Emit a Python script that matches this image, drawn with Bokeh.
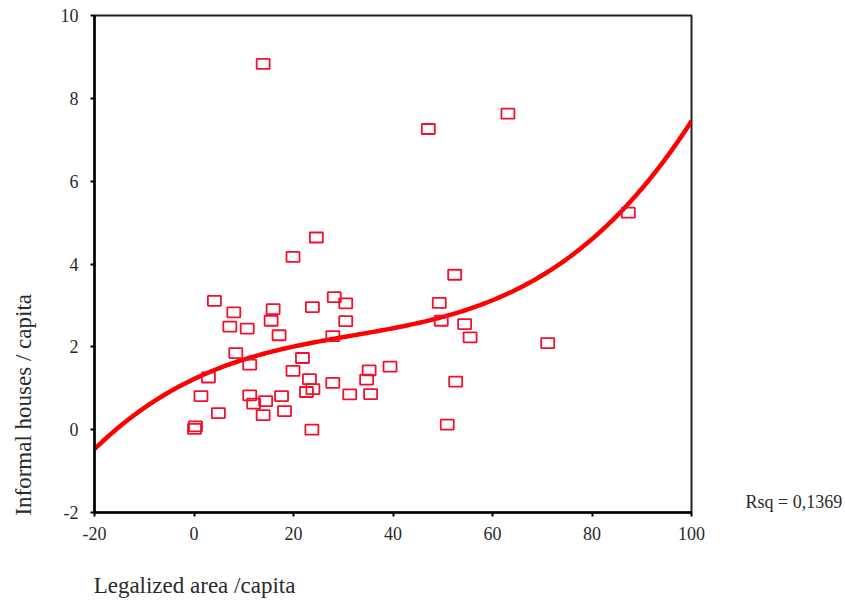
import numpy as np
from bokeh.plotting import figure
from bokeh.models import Range1d, FixedTicker, LinearAxis, ColumnDataSource
from bokeh.embed import file_html
from bokeh.resources import INLINE

# Scatter data: legalized area per capita vs informal houses per capita
legal_area = [13.9, 47.1, 63.1, 87.3, 24.6, 19.9, 52.4, 4.1, 8.0, 7.2, 10.7,
               15.9, 15.5, 17.1, 8.4, 11.2, 2.9, 1.4, 4.9, 0.1, 0.3, 11.2, 12.0,
               14.4, 13.9, 17.6, 18.2, 19.9, 21.8, 23.7, 23.8, 28.2, 30.5, 30.5,
               27.9, 23.2, 22.6, 23.9, 27.9, 31.3, 35.2, 34.7, 35.5, 39.4, 49.3,
               49.7, 54.4, 55.5, 71.1, 52.6, 50.9]
informal_houses = [8.83, 7.26, 7.63, 5.24, 4.64, 4.17, 3.74, 3.11, 2.83, 2.49,
                   2.44, 2.91, 2.63, 2.28, 1.85, 1.57, 1.26, 0.81, 0.40, 0.02,
                   0.08, 0.83, 0.63, 0.69, 0.35, 0.81, 0.45, 1.42, 1.73, 0.0,
                   2.96, 3.20, 3.05, 2.62, 2.26, 1.22, 0.91, 0.98, 1.13, 0.85,
                   1.43, 1.21, 0.86, 1.52, 3.06, 2.63, 2.55, 2.23, 2.09, 1.16,
                   0.12]

x_ticks = [-20, 0, 20, 40, 60, 80, 100]
y_ticks = [-2, 0, 2, 4, 6, 8, 10]
x_label = "Legalized area /capita"
y_label = "Informal houses / capita"
rsq_text = "Rsq = 0,1369"

# where the outside texts are centred, in axis units
x_label_at = 0.1
y_label_at = 0.6
rsq_at = -1.75

# cubic regression fit of the data
coef = np.polyfit(legal_area, informal_houses, 3)
fit_x = np.linspace(-20, 100, 241)
fit_y = np.polyval(coef, fit_x)

SERIF = "Liberation Serif"
TXT = "#2a2a2a"

p = figure(width=845, height=601, output_backend="svg", toolbar_location=None,
           x_range=Range1d(-20, 100), y_range=Range1d(-2, 10),
           min_border_left=94, min_border_right=154, min_border_top=15,
           min_border_bottom=89)
p.background_fill_color = "white"
p.border_fill_color = "white"
p.outline_line_color = "#222222"
p.outline_line_width = 2
p.grid.visible = False

for ax in (p.xaxis[0], p.yaxis[0]):
    ax.axis_line_color = "black"
    ax.axis_line_width = 2.5
    ax.major_tick_line_color = "black"
    ax.major_tick_line_width = 2
    ax.major_tick_out = 4
    ax.major_tick_in = 0
    ax.minor_tick_line_color = None
    ax.major_label_text_font = SERIF
    ax.major_label_text_font_size = "18px"
    ax.major_label_text_color = TXT

p.xaxis.ticker = FixedTicker(ticks=x_ticks)
p.yaxis.ticker = FixedTicker(ticks=y_ticks)
p.xaxis.major_label_overrides = {t: str(t) for t in x_ticks}
p.yaxis.major_label_overrides = {t: str(t) for t in y_ticks}
p.xaxis.major_label_standoff = 10
p.yaxis.major_label_standoff = 12


def text_axis(tick, text, size, standoff):
    """Axis that only carries one text, used for labels outside the frame."""
    a = LinearAxis(ticker=FixedTicker(ticks=[tick]),
                   major_label_overrides={tick: text})
    a.axis_line_color = None
    a.major_tick_line_color = None
    a.minor_tick_line_color = None
    a.major_label_standoff = standoff
    a.major_label_text_font = SERIF
    a.major_label_text_font_size = size
    a.major_label_text_color = TXT
    return a


# R-squared note right of the frame
p.add_layout(text_axis(rsq_at, rsq_text, "18px", 48), "right")

# x label under the left part of the axis
p.add_layout(text_axis(x_label_at, x_label, "23px", 24), "below")

# y label, reading upward, in the lower part of the axis
yl = text_axis(y_label_at, y_label, "23px", 15)
yl.major_label_orientation = "vertical"
p.add_layout(yl, "left")

p.line(fit_x, fit_y, line_color="#ff0000", line_width=4.5)

src = ColumnDataSource(dict(x=legal_area, y=informal_houses))
p.rect("x", "y", width=13, height=10, width_units="screen", height_units="screen",
       source=src, fill_alpha=0, line_color="#f2102e", line_width=1.8)

open("out.html", "w").write(file_html(p, INLINE))
